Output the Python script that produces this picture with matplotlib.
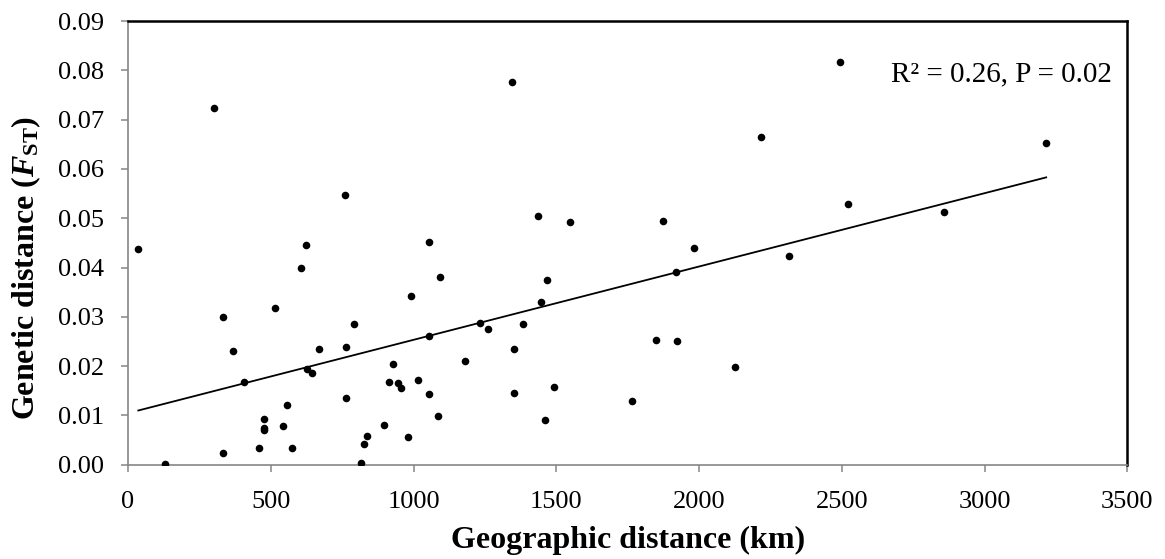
import matplotlib
matplotlib.use("Agg")
import matplotlib.pyplot as plt
import numpy as np

plt.rcParams["font.family"] = ["Liberation Serif", "DejaVu Serif"]
plt.rcParams["mathtext.fontset"] = "custom"
plt.rcParams["mathtext.rm"] = "Liberation Serif:bold"
plt.rcParams["mathtext.it"] = "Liberation Serif:italic:bold"
plt.rcParams["mathtext.bf"] = "Liberation Serif:bold"

# Pairwise geographic distance (km) and genetic distance (FST)
geo_km = [36, 300, 760, 622, 606, 1055, 1091, 991, 333, 514,
          792, 369, 670, 762, 1055, 1232, 1261, 1180, 626, 646,
          406, 927, 914, 946, 956, 1017, 1053, 762, 556, 475,
          476, 475, 543, 1085, 896, 980, 837, 826, 816, 333,
          459, 574, 130, 1346, 2495, 2217, 1435, 1547, 1874, 2522,
          1982, 2314, 1919, 1468, 1446, 1383, 1353, 1849, 1923, 2126,
          1492, 1351, 1764, 1459, 3216, 2857]
fst = [0.0437, 0.0724, 0.0548, 0.0446, 0.0400, 0.0451, 0.0380, 0.0342, 0.0299, 0.0317,
       0.0285, 0.0230, 0.0235, 0.0239, 0.0261, 0.0287, 0.0276, 0.0210, 0.0194, 0.0187,
       0.0168, 0.0204, 0.0167, 0.0166, 0.0156, 0.0171, 0.0144, 0.0135, 0.0121, 0.0093,
       0.0075, 0.0070, 0.0078, 0.0099, 0.0081, 0.0056, 0.0058, 0.0042, 0.0004, 0.0024,
       0.0033, 0.0033, 0.0001, 0.0776, 0.0817, 0.0665, 0.0505, 0.0492, 0.0494, 0.0528,
       0.0439, 0.0423, 0.0391, 0.0375, 0.0331, 0.0285, 0.0235, 0.0252, 0.0250, 0.0199,
       0.0158, 0.0145, 0.0129, 0.0090, 0.0652, 0.0513]

# Linear trend (FST = intercept + slope * km)
trend_intercept = 0.01046
trend_slope = 1.487e-5
stats_text = "R² = 0.26, P = 0.02"

x_ticks = [0, 500, 1000, 1500, 2000, 2500, 3000, 3500]
y_ticks = [0.00, 0.01, 0.02, 0.03, 0.04, 0.05, 0.06, 0.07, 0.08, 0.09]

fig = plt.figure(figsize=(11.65, 5.59), dpi=100)
ax = fig.add_axes([0.1099, 0.1687, 0.8577, 0.7937])

ax.scatter(geo_km, fst, s=30, color="black", zorder=3, linewidths=0)

xs = np.array([min(geo_km), max(geo_km)])
ax.plot(xs, trend_intercept + trend_slope * xs, color="black", lw=1.3, zorder=2)

ax.set_xlim(0, 3500)
ax.set_ylim(0, 0.09)
ax.set_xticks(x_ticks)
ax.set_yticks(y_ticks)
ax.set_yticklabels([f"{v:.2f}" for v in y_ticks])

for side in ("left", "bottom"):
    ax.spines[side].set_color("#868686")
    ax.spines[side].set_linewidth(1.2)
for side in ("top", "right"):
    ax.spines[side].set_color("black")
    ax.spines[side].set_linewidth(1.8)

ax.tick_params(axis="both", direction="out", length=5, width=1.1,
               color="#868686", labelsize=19, labelcolor="black")
ax.tick_params(axis="y", pad=12)
ax.tick_params(axis="x", pad=14)

xl = ax.set_xlabel("Geographic distance (km)", fontsize=23, fontweight="bold")
yl = ax.set_ylabel(r"Genetic distance ($\mathit{F}_{\mathrm{ST}}$)", fontsize=23,
                   fontweight="bold")
xl.set_va("center")
yl.set_va("center")
yl.set_ha("center")
ax.xaxis.set_label_coords(0.5, -0.1697)
ax.yaxis.set_label_coords(-0.102, 0.4444)

ax.text(0.985, 0.8805, stats_text, transform=ax.transAxes, ha="right", va="center",
        fontsize=21)

fig.savefig("out.png", dpi=100)
